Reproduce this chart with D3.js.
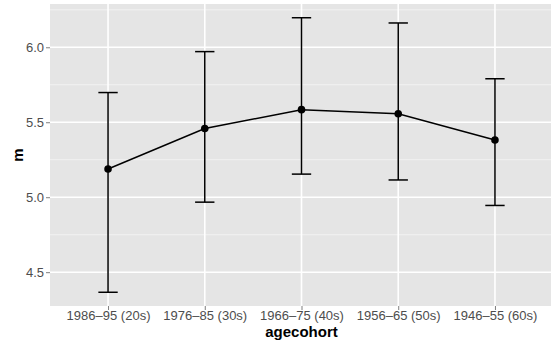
<!DOCTYPE html>
<html>
<head>
<meta charset="utf-8">
<script src="https://cdn.jsdelivr.net/npm/d3@7"></script>
<style>
  html, body { margin: 0; padding: 0; background: #ffffff; }
  svg { display: block; }
  text { font-family: "Liberation Sans", Arial, Helvetica, sans-serif; }
</style>
</head>
<body>
<svg id="chart" width="551" height="347"></svg>
<script>
// Cohort means with their interval bounds
const cohorts = ["1986\u201395 (20s)", "1976\u201385 (30s)", "1966\u201375 (40s)", "1956\u201365 (50s)", "1946\u201355 (60s)"];
const means  = [5.188, 5.458, 5.584, 5.557, 5.382];
const lowers = [4.366, 4.967, 5.154, 5.115, 4.945];
const uppers = [5.698, 5.971, 6.197, 6.162, 5.790];
const yTicks = [4.5, 5.0, 5.5, 6.0];
const yMinor = [4.75, 5.25, 5.75, 6.25];

const rows = cohorts.map((c, i) => ({ c, m: means[i], lo: lowers[i], hi: uppers[i] }));

const panel = { left: 50, top: 4, right: 553, bottom: 306 };

const svg = d3.select("#chart");

// Discrete x axis with 0.6-step padding on each side
const x = d3.scalePoint()
  .domain(cohorts)
  .range([panel.left, panel.right])
  .padding(0.6);

// Continuous y axis expanded 5% beyond the data extent
const lo = d3.min(lowers), hi = d3.max(uppers), pad = (hi - lo) * 0.05;
const y = d3.scaleLinear()
  .domain([lo - pad, hi + pad])
  .range([panel.bottom, panel.top]);

// Panel background
svg.append("rect")
  .attr("x", panel.left).attr("y", panel.top)
  .attr("width", panel.right - panel.left)
  .attr("height", panel.bottom - panel.top)
  .attr("fill", "#e5e5e5");

const grid = svg.append("g");
grid.selectAll("line.minor").data(yMinor.filter(v => v <= y.domain()[1] && v >= y.domain()[0]))
  .enter().append("line")
  .attr("x1", panel.left).attr("x2", panel.right)
  .attr("y1", d => y(d)).attr("y2", d => y(d))
  .attr("stroke", "#f2f2f2").attr("stroke-width", 1);
grid.selectAll("line.majorY").data(yTicks)
  .enter().append("line")
  .attr("x1", panel.left).attr("x2", panel.right)
  .attr("y1", d => y(d)).attr("y2", d => y(d))
  .attr("stroke", "#ffffff").attr("stroke-width", 1.6);
grid.selectAll("line.majorX").data(cohorts)
  .enter().append("line")
  .attr("x1", d => x(d)).attr("x2", d => x(d))
  .attr("y1", panel.top).attr("y2", panel.bottom)
  .attr("stroke", "#ffffff").attr("stroke-width", 1.6);

// Axes
const yAxis = svg.append("g")
  .attr("transform", `translate(${panel.left},0)`)
  .call(d3.axisLeft(y).tickValues(yTicks).tickFormat(d3.format(".1f")).tickSize(4).tickPadding(2));
const xAxis = svg.append("g")
  .attr("transform", `translate(0,${panel.bottom})`)
  .call(d3.axisBottom(x).tickSize(4).tickPadding(2));
[yAxis, xAxis].forEach(g => {
  g.attr("font-size", null).attr("font-family", null);
  g.select(".domain").remove();
  g.selectAll(".tick line").attr("stroke", "#7f7f7f").attr("stroke-width", 1);
  g.selectAll(".tick text")
    .attr("fill", "#4d4d4d")
    .attr("font-size", 13)
    .attr("font-family", "'Liberation Sans', Arial, Helvetica, sans-serif");
});
yAxis.selectAll(".tick text").attr("dy", "0.36em");
xAxis.selectAll(".tick text").attr("dy", "0.63em");

// Axis titles
svg.append("text")
  .attr("x", (panel.left + panel.right) / 2)
  .attr("y", 337)
  .attr("text-anchor", "middle")
  .attr("font-size", 15)
  .attr("font-weight", "bold")
  .attr("fill", "#000")
  .text("agecohort");
svg.append("text")
  .attr("transform", `translate(23,${(panel.top + panel.bottom) / 2}) rotate(-90)`)
  .attr("text-anchor", "middle")
  .attr("font-size", 15)
  .attr("font-weight", "bold")
  .attr("fill", "#000")
  .text("m");

// Error bars
const capHalf = x.step() * 0.1;
const bars = svg.append("g").attr("stroke", "#000").attr("stroke-width", 1.5).attr("fill", "none");
bars.selectAll("line.v").data(rows).enter().append("line")
  .attr("x1", d => x(d.c)).attr("x2", d => x(d.c))
  .attr("y1", d => y(d.lo)).attr("y2", d => y(d.hi));
bars.selectAll("line.top").data(rows).enter().append("line")
  .attr("x1", d => x(d.c) - capHalf).attr("x2", d => x(d.c) + capHalf)
  .attr("y1", d => y(d.hi)).attr("y2", d => y(d.hi));
bars.selectAll("line.bot").data(rows).enter().append("line")
  .attr("x1", d => x(d.c) - capHalf).attr("x2", d => x(d.c) + capHalf)
  .attr("y1", d => y(d.lo)).attr("y2", d => y(d.lo));

// Line through the means
svg.append("path")
  .datum(rows)
  .attr("fill", "none")
  .attr("stroke", "#000")
  .attr("stroke-width", 1.5)
  .attr("d", d3.line().x(d => x(d.c)).y(d => y(d.m)));

// Points
svg.append("g").selectAll("circle").data(rows).enter().append("circle")
  .attr("cx", d => x(d.c)).attr("cy", d => y(d.m))
  .attr("r", 3.8)
  .attr("fill", "#000");
</script>
</body>
</html>
